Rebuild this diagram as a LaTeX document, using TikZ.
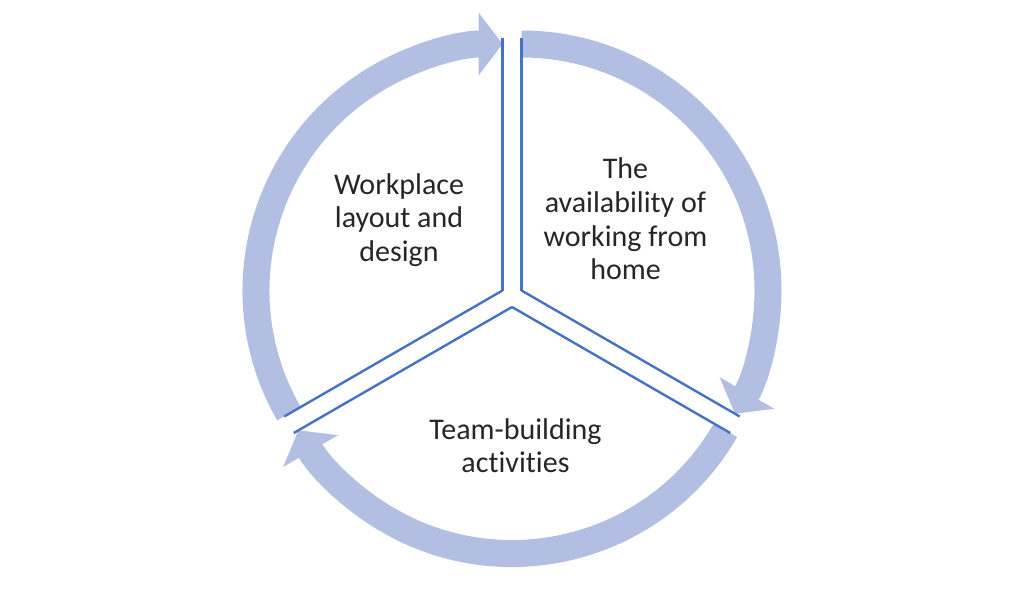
\documentclass[tikz,border=0pt]{standalone}
\usepackage{fontspec}
\setmainfont{Carlito}[Ligatures=NoCommon]
\usepackage{tikz}
\usetikzlibrary{arrows.meta}
\definecolor{ringblue}{RGB}{178,191,226}
\definecolor{edgeblue}{RGB}{68,114,196}
\tikzstyle{cycle arrow} = [draw=ringblue, line width=13.5pt, -{Triangle[length=12pt,width=31pt]}]
\tikzstyle{edge} = [draw=edgeblue, line width=1.2pt, -]
\tikzstyle{sector text} = [draw=none, align=center, text=black!85, font=\fontsize{15}{16.8}\selectfont]

\begin{document}
\begin{tikzpicture}[x=0.5pt, y=0.5pt]
	\useasboundingbox (0,0) rectangle (1024,596);
	% First the apexes of the three sectors
	\foreach \x/\y/\name in {502.5/305.5/a1, 521.5/305.5/a2, 512/289/a3}
	\coordinate (\name) at (\x,\y);
	
	% Outer ends of the sector edges
	\foreach \apex/\ang/\name in {a1/90/e1, a1/210/e2, a2/90/e3, a2/-30/e4, a3/-30/e5, a3/210/e6}
	\path (\apex) ++(\ang:252) coordinate (\name);
	
	% Then the cycle arrows round the rim
	\foreach \apex/\from/\to in {a1/210/90, a2/90/-30, a3/-30/-150}
	\draw[cycle arrow] (\apex) ++(\from:246.5) arc[start angle=\from, end angle=\to, radius=246.5];
	
	% Connect apexes with the rim
	\foreach \source/ \dest in {
		a1/e1,
		a1/e2,
		a2/e3,
		a2/e4,
		a3/e5,
		a3/e6}
	\path[edge] (\source) -- (\dest);
	
	\node[sector text] (workplace) at (399,376) {Workplace\\layout and\\design};
	\node[sector text] (home) at (625.5,377) {The\\availability of\\working from\\home};
	\node[sector text] (team) at (515.5,150.5) {Team-building\\activities};

\end{tikzpicture}
\end{document}
